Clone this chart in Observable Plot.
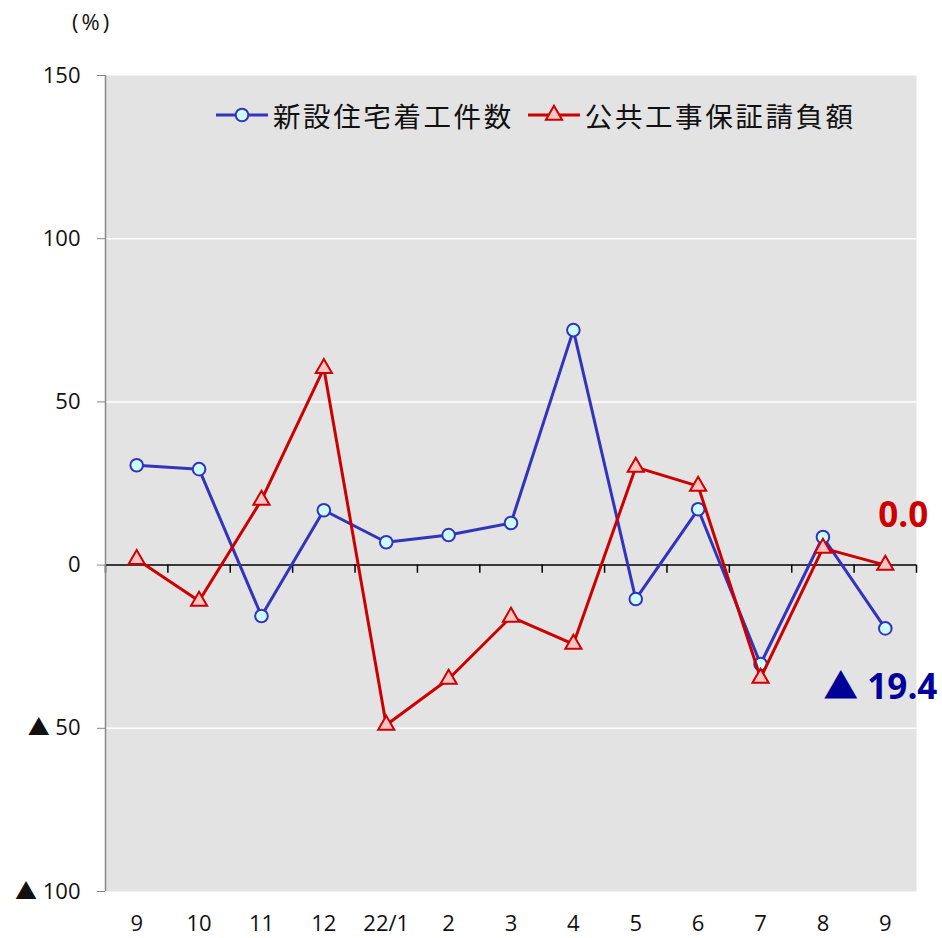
<!DOCTYPE html>
<html><head><meta charset="utf-8">
<script src="https://cdn.jsdelivr.net/npm/d3@7"></script>
<script src="https://cdn.jsdelivr.net/npm/@observablehq/plot@0.6"></script>
<style>
body{margin:0;background:#fff;font-family:"Open Sans","Noto Sans CJK JP",sans-serif;}
#wrap{position:relative;width:942px;height:938px;}
#unit{position:absolute;left:72px;top:6px;font-size:22px;letter-spacing:3px;color:#111;}
#legend{position:absolute;left:216px;top:100px;height:30px;display:flex;align-items:center;font-family:"Noto Sans CJK JP",sans-serif;font-size:27.5px;letter-spacing:2.6px;color:#111;}
#legend .item{display:flex;align-items:center;margin-right:14px;}
#legend svg{margin-right:5px;overflow:visible;}
</style></head><body>
<div id="wrap">
<div id="chart"></div>
<div id="unit">(%)</div>
<div id="legend"></div>
</div>
<script>
const months = ["9","10","11","12","22/1","2","3","4","5","6","7","8","9"];
const housing = [30.6,29.4,-15.6,16.8,7.0,9.2,12.9,72.0,-10.4,17.1,-30.3,8.6,-19.4];
const publicWorks = [1.8,-11.0,19.9,60.3,-49.0,-34.9,-15.9,-24.2,30.0,24.2,-34.6,5.2,0.0];
const seriesNames = ["新設住宅着工件数","公共工事保証請負額"];
const yTicks = [-100,-50,0,50,100,150];
const gridLines = [100,50,-50];

const blue = "#3333bb", blueFill = "#ccffff";
const red = "#cc0000", redFill = "#ffc4c4";

const fmt = v => v < 0 ? "▲ " + Math.abs(v) : String(v);
const fmtLabel = v => v < 0 ? "▲ " + Math.abs(v).toFixed(1) : v.toFixed(1);

const hData = housing.map((v,i)=>({x:i+0.5, v}));
const pData = publicWorks.map((v,i)=>({x:i+0.5, v}));
const last = months.length - 1;
const boundaries = d3.range(0, months.length + 1);

const chart = Plot.plot({
  width: 942, height: 938,
  marginLeft: 105, marginRight: 26, marginTop: 75, marginBottom: 47,
  style: {fontFamily: "'Open Sans','Noto Sans CJK JP',sans-serif", background: "transparent", overflow: "visible"},
  x: {type: "linear", domain: [0, months.length], axis: null},
  y: {domain: [-100, 150], axis: null},
  marks: [
    Plot.frame({fill: "#e3e3e3", stroke: "none"}),
    Plot.ruleY(gridLines, {stroke: "white", strokeWidth: 1.5}),
    Plot.ruleY([0], {stroke: "black", strokeWidth: 1.5}),
    Plot.ruleX(boundaries, {x: d => d, y1: 0, y2: -2.5, stroke: "black", strokeWidth: 1.5}),
    Plot.ruleX([0], {stroke: "#888", strokeWidth: 1.5}),
    Plot.axisY(yTicks, {label: null, tickSize: 8, tickPadding: 17, stroke: "#888", fill: "#111", fontSize: 22, tickFormat: fmt}),
    Plot.axisX(d3.range(months.length).map(i => i + 0.5), {label: null, tickSize: 0, tickPadding: 24, fill: "#111", fontSize: 22, tickFormat: d => months[Math.floor(d)]}),
    Plot.line(hData, {x: "x", y: "v", stroke: blue, strokeWidth: 3}),
    Plot.dot(hData, {x: "x", y: "v", r: 6.3, fill: blueFill, stroke: blue, strokeWidth: 2}),
    Plot.line(pData, {x: "x", y: "v", stroke: red, strokeWidth: 3}),
    Plot.dot(pData, {x: "x", y: "v", symbol: "triangle", r: 6, fill: redFill, stroke: red, strokeWidth: 2}),
    Plot.text([pData[last]], {x: "x", y: "v", text: d => fmtLabel(d.v), dx: 18, dy: -49, fill: red, fontSize: 35, fontWeight: "bold"}),
    Plot.text([hData[last]], {x: "x", y: "v", text: d => fmtLabel(d.v), dx: -5, dy: 59, fill: "#000099", fontSize: 35, fontWeight: "bold"})
  ]
});
document.getElementById("chart").appendChild(chart);

const legend = document.getElementById("legend");
const swatches = [
  `<svg width="52" height="20"><line x1="0" y1="10" x2="52" y2="10" stroke="${blue}" stroke-width="3"/><circle cx="26" cy="10" r="6.3" fill="${blueFill}" stroke="${blue}" stroke-width="2"/></svg>`,
  `<svg width="52" height="20"><line x1="0" y1="10" x2="52" y2="10" stroke="${red}" stroke-width="3"/><path d="${d3.symbol(d3.symbolTriangle, 113)()}" transform="translate(26,10)" fill="${redFill}" stroke="${red}" stroke-width="2"/></svg>`
];
seriesNames.forEach((n,i) => {
  const d = document.createElement("div");
  d.className = "item";
  d.innerHTML = swatches[i] + `<span>${n}</span>`;
  legend.appendChild(d);
});
</script>
</body></html>
